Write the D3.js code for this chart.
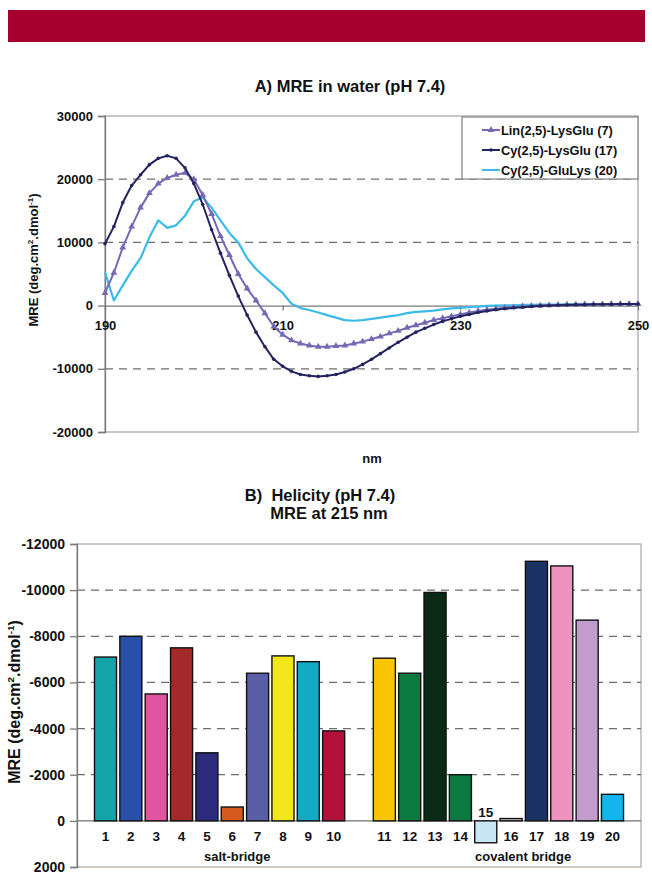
<!DOCTYPE html>
<html>
<head>
<meta charset="utf-8">
<script src="https://cdn.jsdelivr.net/npm/d3@7"></script>
<style>
  body { margin: 0; background: #fff; }
  text { font-family: "Liberation Sans", Arial, sans-serif; fill: #111; }
</style>
</head>
<body>
<div id="chart"></div>
<script>
// page size
const width = 652;
const height = 875;

// ---- data: chart A (MRE in water), one value per nm from 190 to 250
const wavelengths = d3.range(190, 251);
const lin7 = [2000, 5200, 9200, 12500, 15500, 17800, 19300, 20200, 20700, 21000,
  20000, 17500, 14500, 11000, 8000, 5000, 2700, 800, -1200, -3300,
  -4600, -5500, -6000, -6300, -6500, -6500, -6400, -6300, -6000, -5700,
  -5300, -4900, -4400, -4000, -3500, -3100, -2700, -2300, -2000, -1700,
  -1400, -1100, -850, -650, -500, -350, -250, -150, -50, 0,
  50, 100, 150, 150, 200, 200, 200, 250, 250, 250, 250];
const cy17 = [9800, 12500, 16300, 19000, 20700, 22300, 23300, 23700, 23300, 21800,
  19300, 16000, 12000, 8300, 4800, 1500, -1500, -4200, -6500, -8500,
  -9600, -10400, -10900, -11100, -11200, -11100, -10900, -10500, -10000, -9300,
  -8500, -7600, -6700, -5800, -5000, -4200, -3600, -3000, -2500, -2100,
  -1700, -1400, -1100, -850, -650, -500, -350, -250, -150, -50,
  0, 50, 100, 150, 150, 200, 200, 200, 250, 250, 250];
const cy20 = [5300, 800, 3200, 5500, 7500, 10800, 13500, 12300, 12700, 14200,
  16500, 17100, 15500, 13500, 11500, 10000, 7500, 5800, 4500, 3200,
  2000, 300, -400, -700, -1100, -1500, -1900, -2300, -2400, -2300,
  -2100, -1900, -1700, -1500, -1200, -1000, -900, -800, -600, -450,
  -350, -250, -150, -50, 0, 50, 50, 100, 100, 150,
  150, 150, 200, 200, 200, 200, 250, 250, 250, 250, 250];
const seriesNames = ["Lin(2,5)-LysGlu (7)", "Cy(2,5)-LysGlu (17)", "Cy(2,5)-GluLys (20)"];
const yTicksA = [-20000, -10000, 0, 10000, 20000, 30000];
const xTicksA = [190, 210, 230, 250];

// ---- data: chart B (helicity, MRE at 215 nm)
const peptides = ["1","2","3","4","5","6","7","8","9","10",
  "11","12","13","14","15","16","17","18","19","20"];
const mre215 = [-7100, -8000, -5500, -7500, -2950, -600, -6400, -7150, -6900, -3900,
  -7050, -6400, -9900, -2000, 950, -100, -11250, -11050, -8700, -1150];
const barColors = ["#14a3a6", "#2a4fa6", "#e0559f", "#a3292a", "#2d2b7c", "#d55a1f",
  "#5a5ea7", "#f2e61c", "#13aac6", "#b3113b",
  "#f9c502", "#0b7a40", "#0a2a15", "#0b7a40", "#c8e6f6", "#c9c9c4",
  "#1b3264", "#f092be", "#c19ccc", "#12b5ec"];
const groupNames = ["salt-bridge", "covalent bridge"];
const yTicksB = [-12000, -10000, -8000, -6000, -4000, -2000, 0, 2000];

const svg = d3.select("#chart").append("svg")
  .attr("width", width)
  .attr("height", height);

// red header band
svg.append("rect")
  .attr("x", 8).attr("y", 10).attr("width", 637).attr("height", 32)
  .attr("fill", "#a6002f");

// helper for the y axis title with superscripts
function yTitle(x, y, size) {
  const t = svg.append("text")
    .attr("transform", `translate(${x},${y}) rotate(-90)`)
    .attr("text-anchor", "middle")
    .attr("font-weight", "bold")
    .attr("font-size", size);
  t.append("tspan").text("MRE (deg.cm");
  t.append("tspan").attr("dy", -size * 0.4).attr("font-size", size * 0.62).text("2");
  t.append("tspan").attr("dy", size * 0.4).text(".dmol");
  t.append("tspan").attr("dy", -size * 0.4).attr("font-size", size * 0.62).text("-1");
  t.append("tspan").attr("dy", size * 0.4).text(")");
}

function styleAxis(g, size) {
  g.select(".domain").attr("stroke", "#7a7a7a").attr("stroke-width", 1.3);
  g.selectAll(".tick line").attr("stroke", "#7a7a7a").attr("stroke-width", 1.3);
  g.selectAll(".tick text")
    .attr("font-size", size)
    .attr("font-weight", "bold")
    .attr("fill", "#1a1a1a")
    .style("font-family", '"Liberation Sans", Arial, sans-serif');
}

/* ---------------- Chart A ---------------- */

const A = {left: 105, right: 638, top: 116, bottom: 432};
const xA = d3.scaleLinear().domain([190, 250]).range([A.left, A.right]);
const yA = d3.scaleLinear().domain([-20000, 30000]).range([A.bottom, A.top]);

svg.append("text")
  .attr("x", 350).attr("y", 92)
  .attr("text-anchor", "middle")
  .attr("font-weight", "bold").attr("font-size", 16.5)
  .text("A) MRE in water (pH 7.4)");

// frame
svg.append("rect")
  .attr("x", A.left).attr("y", A.top)
  .attr("width", A.right - A.left).attr("height", A.bottom - A.top)
  .attr("fill", "none").attr("stroke", "#a8a8a8").attr("stroke-width", 1.3);

// dashed grid
svg.append("g").selectAll("line")
  .data(yTicksA.filter(d => d !== 0 && d !== 30000 && d !== -20000))
  .join("line")
    .attr("x1", A.left).attr("x2", A.right)
    .attr("y1", d => yA(d)).attr("y2", d => yA(d))
    .attr("stroke", "#6e6e6e").attr("stroke-width", 1.2)
    .attr("stroke-dasharray", "8,6");

const gyA = svg.append("g")
  .attr("transform", `translate(${A.left},0)`)
  .call(d3.axisLeft(yA).tickValues(yTicksA).tickSize(7).tickPadding(5).tickFormat(d => String(d)));
styleAxis(gyA, 13);

const gxA = svg.append("g")
  .attr("transform", `translate(0,${yA(0)})`)
  .call(d3.axisBottom(xA).tickValues(xTicksA).tickSize(5).tickPadding(10).tickSizeOuter(0));
styleAxis(gxA, 13);

svg.append("text")
  .attr("x", 372).attr("y", 463)
  .attr("text-anchor", "middle")
  .attr("font-weight", "bold").attr("font-size", 13)
  .text("nm");

yTitle(38, 260, 13);

const curves = [
  {name: seriesNames[0], values: lin7, color: "#7569b5", width: 2, marker: "tri"},
  {name: seriesNames[1], values: cy17, color: "#24245e", width: 2, marker: "dot"},
  {name: seriesNames[2], values: cy20, color: "#3bbbe9", width: 2.2, marker: null}
];

const line = d3.line()
  .x(d => xA(d[0]))
  .y(d => yA(d[1]));

const tri = d3.symbol().type(d3.symbolTriangle).size(20);

// draw in order: cyan first, then purple, navy on top
[curves[2], curves[0], curves[1]].forEach(c => {
  const pts = wavelengths.map((w, i) => [w, c.values[i]]);
  svg.append("path")
    .datum(pts)
    .attr("d", line)
    .attr("fill", "none")
    .attr("stroke", c.color)
    .attr("stroke-width", c.width)
    .attr("stroke-linejoin", "round");
  if (c.marker === "tri") {
    svg.append("g").selectAll("path")
      .data(pts).join("path")
        .attr("d", tri)
        .attr("transform", d => `translate(${xA(d[0])},${yA(d[1])})`)
        .attr("fill", c.color);
  } else if (c.marker === "dot") {
    svg.append("g").selectAll("circle")
      .data(pts).join("circle")
        .attr("cx", d => xA(d[0])).attr("cy", d => yA(d[1]))
        .attr("r", 1.8)
        .attr("fill", c.color);
  }
});

// legend
const leg = svg.append("g").attr("transform", "translate(462,117)");
leg.append("rect")
  .attr("width", 176).attr("height", 62)
  .attr("fill", "#fff").attr("stroke", "#8a8a8a").attr("stroke-width", 1.3);
curves.forEach((c, i) => {
  const ly = 13 + i * 20;
  leg.append("line")
    .attr("x1", 20).attr("x2", 38).attr("y1", ly).attr("y2", ly)
    .attr("stroke", c.color).attr("stroke-width", 2);
  if (c.marker === "tri") {
    leg.append("path").attr("d", tri).attr("transform", `translate(29,${ly})`).attr("fill", c.color);
  } else if (c.marker === "dot") {
    leg.append("circle").attr("cx", 29).attr("cy", ly).attr("r", 1.8).attr("fill", c.color);
  }
  leg.append("text")
    .attr("x", 39).attr("y", ly + 4.5)
    .attr("font-size", 12.8).attr("font-weight", "bold")
    .attr("fill", "#222")
    .text(c.name);
});

/* ---------------- Chart B ---------------- */

const B = {left: 77, right: 641, top: 544, bottom: 867};
const slots = peptides.slice(0, 10).concat(["gap"], peptides.slice(10));
const xB = d3.scaleBand().domain(slots).range([B.left, B.right])
  .paddingInner(0.13).paddingOuter(0.69);
const yB = d3.scaleLinear().domain([-12000, 2000]).range([B.top, B.bottom]);

svg.append("text")
  .attr("x", 320).attr("y", 501)
  .attr("text-anchor", "middle")
  .attr("font-weight", "bold").attr("font-size", 16.5)
  .attr("xml:space", "preserve")
  .text("B)  Helicity (pH 7.4)");
svg.append("text")
  .attr("x", 329).attr("y", 519)
  .attr("text-anchor", "middle")
  .attr("font-weight", "bold").attr("font-size", 16.5)
  .text("MRE at 215 nm");

svg.append("rect")
  .attr("x", B.left).attr("y", B.top)
  .attr("width", B.right - B.left).attr("height", B.bottom - B.top)
  .attr("fill", "none").attr("stroke", "#b5aca8").attr("stroke-width", 1.3);

svg.append("g").selectAll("line")
  .data(yTicksB.filter(d => d < 0 && d > -12000))
  .join("line")
    .attr("x1", B.left).attr("x2", B.right)
    .attr("y1", d => yB(d)).attr("y2", d => yB(d))
    .attr("stroke", "#6e6e6e").attr("stroke-width", 1.3)
    .attr("stroke-dasharray", "8,6");

svg.append("line")
  .attr("x1", B.left).attr("x2", B.right)
  .attr("y1", yB(0)).attr("y2", yB(0))
  .attr("stroke", "#6e6e6e").attr("stroke-width", 1.3);

const gyB = svg.append("g")
  .attr("transform", `translate(${B.left},0)`)
  .call(d3.axisLeft(yB).tickValues(yTicksB).tickSize(7).tickPadding(5).tickFormat(d => String(d)));
styleAxis(gyB, 14);

yTitle(20, 702, 16);

svg.append("g").selectAll("rect")
  .data(peptides)
  .join("rect")
    .attr("x", d => xB(d))
    .attr("width", xB.bandwidth())
    .attr("y", (d, i) => Math.min(yB(mre215[i]), yB(0)))
    .attr("height", (d, i) => Math.abs(yB(mre215[i]) - yB(0)))
    .attr("fill", (d, i) => barColors[i])
    .attr("stroke", "#111").attr("stroke-width", 1.4);

// category labels (label sits above the axis when the bar hangs below it)
svg.append("g").selectAll("text")
  .data(peptides)
  .join("text")
    .attr("x", d => xB(d) + xB.bandwidth() / 2)
    .attr("y", (d, i) => mre215[i] > 0 ? yB(0) - 4 : yB(0) + 20)
    .attr("text-anchor", "middle")
    .attr("font-size", 13.5).attr("font-weight", "bold")
    .text(d => d);

svg.append("text")
  .attr("x", xB("6") + xB.bandwidth() / 2 + 5).attr("y", 861)
  .attr("text-anchor", "middle")
  .attr("font-size", 13).attr("font-weight", "bold")
  .text(groupNames[0]);
svg.append("text")
  .attr("x", xB("16") + xB.bandwidth() / 2 + 12).attr("y", 861)
  .attr("text-anchor", "middle")
  .attr("font-size", 13).attr("font-weight", "bold")
  .text(groupNames[1]);
</script>
</body>
</html>
